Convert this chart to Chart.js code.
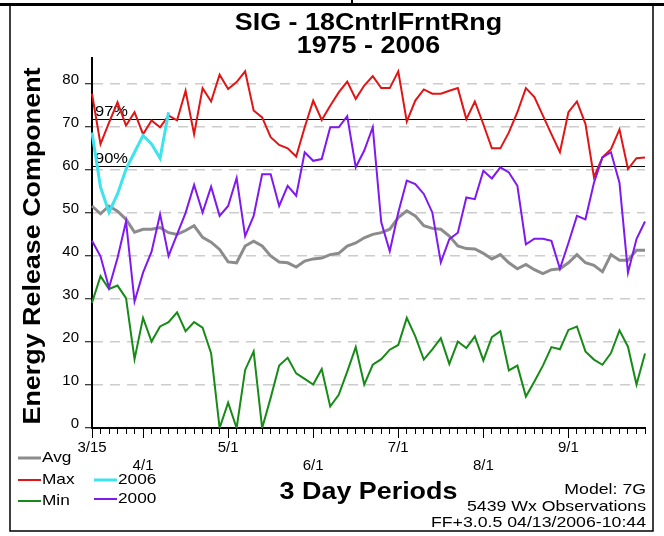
<!DOCTYPE html>
<html>
<head>
<meta charset="utf-8">
<script src="https://cdn.jsdelivr.net/npm/chart.js@4/dist/chart.umd.min.js"></script>
<style>
  html, body { margin: 0; padding: 0; background: #fff; }
  #wrap { width: 664px; height: 536px; position: relative; }
</style>
</head>
<body>
<div id="wrap"><canvas id="c" width="664" height="536"></canvas></div>
<script>
// ERC climatology, 3-day periods starting 3/15
const dateLabels = ['3/15', '4/1', '5/1', '6/1', '7/1', '8/1', '9/1'];
const dateIndex  = [0, 6, 16, 26, 36, 46, 56];
const yTicks = [0, 10, 20, 30, 40, 50, 60, 70, 80];
const pct97 = 71.8;
const pct90 = 60.9;

const avgVals = [51.6, 49.8, 51.6, 50.4, 48.5, 45.5, 46.2, 46.2, 46.6, 45.4,
  45.0, 45.9, 47.0, 44.3, 43.2, 41.5, 38.6, 38.4, 42.3, 43.4,
  42.3, 40.0, 38.6, 38.4, 37.4, 38.8, 39.3, 39.5, 40.3, 40.6,
  42.3, 43.0, 44.2, 45.0, 45.4, 46.2, 48.9, 50.5, 49.3, 47.0,
  46.4, 46.2, 44.6, 42.3, 41.7, 41.6, 40.6, 39.3, 40.3, 38.4,
  37.0, 38.0, 36.8, 35.9, 36.8, 37.0, 38.4, 40.3, 38.4, 37.8,
  36.3, 40.3, 39.0, 39.0, 41.3, 41.3];

const maxVals = [77.7, 66.0, 71.0, 75.7, 70.3, 73.4, 68.3, 71.5, 69.9, 72.6,
  71.5, 78.4, 68.3, 79.0, 75.9, 82.1, 78.8, 80.4, 82.9, 73.8,
  72.2, 67.6, 65.8, 65.0, 63.1, 69.9, 76.1, 71.6, 74.9, 78.0,
  80.5, 76.5, 79.6, 81.8, 79.0, 79.0, 82.9, 71.2, 76.1, 78.7,
  77.7, 77.7, 78.4, 79.0, 71.8, 75.9, 70.6, 65.0, 65.0, 68.7,
  73.4, 79.0, 76.9, 72.6, 68.3, 64.1, 73.4, 75.9, 70.7, 58.3,
  62.9, 64.8, 69.4, 60.2, 62.7, 62.9];

const minVals = [29.1, 35.3, 32.3, 33.1, 30.2, 16.0, 25.6, 20.1, 23.6, 24.6,
  26.9, 22.5, 24.6, 23.3, 17.4, 0.0, 5.9, 0.0, 13.5, 17.8,
  0.0, 7.0, 14.5, 16.3, 12.7, 11.4, 10.1, 13.7, 5.0, 7.7,
  13.1, 18.8, 10.1, 14.7, 16.0, 18.2, 19.3, 25.6, 21.3, 15.9,
  18.3, 20.9, 14.9, 20.1, 18.6, 21.3, 15.7, 21.1, 22.5, 13.4,
  14.5, 7.3, 10.8, 14.5, 18.8, 18.3, 22.8, 23.6, 17.8, 15.9,
  14.7, 17.4, 22.7, 18.9, 10.1, 17.3];

const vals2000 = [43.5, 39.9, 32.6, 39.5, 48.0, 29.4, 36.1, 41.0, 49.7, 40.0,
  45.0, 50.0, 56.5, 50.1, 56.1, 49.3, 51.6, 58.1, 44.6, 49.3,
  59.0, 59.0, 51.6, 56.3, 54.0, 64.1, 62.1, 62.5, 69.9, 69.9,
  72.5, 60.6, 64.5, 69.9, 47.8, 41.1, 50.1, 57.5, 56.7, 54.4,
  50.1, 38.5, 43.9, 45.4, 53.6, 53.2, 59.8, 58.0, 60.6, 59.4,
  56.3, 42.7, 44.0, 44.0, 43.5, 37.0, 43.0, 49.3, 48.5, 57.0,
  62.9, 64.1, 57.0, 36.1, 43.9, 48.0];

const vals2006 = [68.7, 56.0, 50.1, 54.4, 60.2, 64.1, 68.0, 66.0, 62.7, 73.4];

const COLORS = { avg: '#8c8c8c', max: '#e01515', min: '#178a17', y2006: '#3fe3ee', y2000: '#8018f0' };

// category labels: odd months on the first line, even months on the second
const periodLabels = avgVals.map(() => '');
dateIndex.forEach((idx, k) => {
  periodLabels[idx] = (k % 2 === 0) ? [dateLabels[k], ''] : ['', dateLabels[k]];
});

const FONT = 'Liberation Sans, Arial, Helvetica, sans-serif';

function wideText(ctx, text, x, y, font, align, sx) {
  ctx.save();
  ctx.font = font;
  ctx.textBaseline = 'middle';
  ctx.textAlign = 'left';
  const w = ctx.measureText(text).width * sx;
  const x0 = align === 'center' ? x - w / 2 : (align === 'right' ? x - w : x);
  ctx.translate(x0, y);
  ctx.scale(sx, 1);
  ctx.fillStyle = '#000';
  ctx.fillText(text, 0, 0);
  ctx.restore();
}

const decor = {
  id: 'decor',
  beforeDraw(chart) {
    const ctx = chart.ctx;
    ctx.save();
    ctx.fillStyle = '#fff';
    ctx.fillRect(0, 0, chart.width, chart.height);
    ctx.restore();
  },
  beforeDatasetsDraw(chart) {
    const ctx = chart.ctx;
    const area = chart.chartArea;
    const ys = chart.scales.y;
    ctx.save();
    ctx.strokeStyle = '#000';
    ctx.lineWidth = 1;
    [[pct97, '97%'], [pct90, '90%']].forEach(([v, txt]) => {
      const py = Math.round(ys.getPixelForValue(v)) + 0.5;
      ctx.beginPath();
      ctx.moveTo(area.left, py);
      ctx.lineTo(area.right, py);
      ctx.stroke();
      wideText(ctx, txt, area.left + 3, py - 8, '15px ' + FONT, 'left', 1.1);
    });
    ctx.restore();
  },
  afterDraw(chart) {
    const ctx = chart.ctx;
    const area = chart.chartArea;
    const xs = chart.scales.x;
    const cx = (area.left + area.right) / 2;

    // longer ticks at month starts
    ctx.save();
    ctx.strokeStyle = '#000';
    ctx.lineWidth = 1;
    dateIndex.forEach(idx => {
      const px = Math.round(xs.getPixelForValue(idx)) + 0.5;
      ctx.beginPath();
      ctx.moveTo(px, area.bottom);
      ctx.lineTo(px, area.bottom + 10);
      ctx.stroke();
    });
    ctx.restore();

    // titles
    wideText(ctx, 'SIG - 18CntrlFrntRng', cx, 23, 'bold 24px ' + FONT, 'center', 1.12);
    wideText(ctx, '1975 - 2006', cx, 46, 'bold 24px ' + FONT, 'center', 1.12);
    wideText(ctx, '3 Day Periods', cx, 492, 'bold 24px ' + FONT, 'center', 1.12);

    // y axis title
    ctx.save();
    ctx.translate(33, (area.top + area.bottom) / 2 + 3);
    ctx.rotate(-Math.PI / 2);
    wideText(ctx, 'Energy Release Component', 0, 0, 'bold 24px ' + FONT, 'center', 1.12);
    ctx.restore();

    // footnotes
    wideText(ctx, 'Model: 7G', 646, 490, '15px ' + FONT, 'right', 1.18);
    wideText(ctx, '5439 Wx Observations', 646, 507, '15px ' + FONT, 'right', 1.18);
    wideText(ctx, 'FF+3.0.5 04/13/2006-10:44', 646, 523, '15px ' + FONT, 'right', 1.18);

    // legend
    const legend = [
      ['Avg', COLORS.avg, 18, 458, 3],
      ['Max', COLORS.max, 18, 480, 2],
      ['Min', COLORS.min, 18, 501, 2],
      ['2006', COLORS.y2006, 94, 480, 3],
      ['2000', COLORS.y2000, 94, 499, 2]
    ];
    legend.forEach(([name, col, lx, ly, lw]) => {
      ctx.save();
      ctx.strokeStyle = col;
      ctx.lineWidth = lw;
      ctx.beginPath();
      ctx.moveTo(lx, ly);
      ctx.lineTo(lx + 23, ly);
      ctx.stroke();
      ctx.restore();
      wideText(ctx, name, lx + 24, ly, '15px ' + FONT, 'left', 1.15);
    });

    // frame
    ctx.save();
    ctx.fillStyle = '#000';
    ctx.fillRect(0, 3, chart.width, 3);
    ctx.fillRect(351, 0, 2, 3);
    ctx.strokeStyle = '#000';
    ctx.lineWidth = 1.5;
    ctx.beginPath();
    ctx.moveTo(10, 5);
    ctx.lineTo(10, 531);
    ctx.lineTo(653, 531);
    ctx.lineTo(653, 5);
    ctx.stroke();
    ctx.restore();
  }
};

function series(label, data, color, width) {
  return {
    label, data, borderColor: color, backgroundColor: color,
    borderWidth: width, pointRadius: 0, tension: 0, fill: false, spanGaps: false
  };
}

new Chart(document.getElementById('c'), {
  type: 'line',
  data: {
    labels: periodLabels,
    datasets: [
      series('2006', vals2006, COLORS.y2006, 3),
      series('2000', vals2000, COLORS.y2000, 2),
      series('Avg', avgVals, COLORS.avg, 3),
      series('Max', maxVals, COLORS.max, 2),
      series('Min', minVals, COLORS.min, 2)
    ]
  },
  options: {
    responsive: false,
    animation: false,
    devicePixelRatio: 1,
    layout: { padding: { top: 58, right: 19, left: 0, bottom: 0 } },
    plugins: { legend: { display: false }, tooltip: { enabled: false }, title: { display: false } },
    scales: {
      x: {
        type: 'category',
        offset: false,
        grid: { drawOnChartArea: false, drawTicks: true, tickLength: 6, tickColor: '#000', tickWidth: 1 },
        border: { display: true, color: '#000', width: 2 },
        ticks: {
          autoSkip: false, maxRotation: 0, minRotation: 0, padding: 5, color: '#000',
          font: { family: FONT, size: 15, lineHeight: 1.2 }
        },
        afterFit(s) { s.height = 108; }
      },
      y: {
        min: 0,
        max: 86,
        afterBuildTicks(s) { s.ticks = yTicks.map(v => ({ value: v })); },
        grid: {
          color: c => (c.tick && c.tick.value === 0) ? 'rgba(0,0,0,0)' : '#cccccc',
          lineWidth: 1.5, drawTicks: true, tickLength: 7, tickColor: '#000', tickWidth: 1
        },
        border: { display: true, color: '#000', width: 2, dash: [10, 7] },
        ticks: { padding: 6, color: '#000', labelOffset: -4, font: { family: FONT, size: 15 } },
        afterFit(s) { s.width = 92; }
      }
    }
  },
  plugins: [decor]
});
</script>
</body>
</html>
